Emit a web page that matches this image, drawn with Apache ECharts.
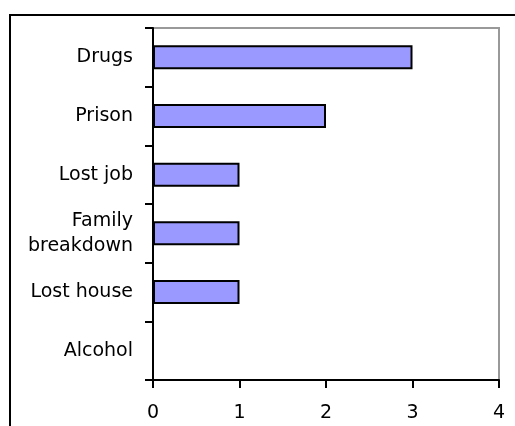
<!DOCTYPE html>
<html>
<head>
<meta charset="utf-8">
<script src="https://cdn.jsdelivr.net/npm/echarts@6/dist/echarts.min.js"></script>
<style>
  html, body { margin: 0; padding: 0; background: #fff; }
  #chart { width: 515px; height: 426px; }
</style>
</head>
<body>
<div id="chart"></div>
<script>
// reasons, top to bottom
const reasons = ['Drugs', 'Prison', 'Lost job', 'Family\nbreakdown', 'Lost house', 'Alcohol']
const counts = [3, 2, 1, 1, 1, 0]
const xTicks = [0, 1, 2, 3, 4]

const chart = echarts.init(document.getElementById('chart'))

const option = {
  animation: false,
  textStyle: { fontFamily: 'DejaVu Sans, sans-serif' },
  graphic: [{
    type: 'rect',
    shape: { x: 10, y: 15, width: 520, height: 430 },
    style: { fill: 'none', stroke: '#000', lineWidth: 2 },
    silent: true
  }],
  grid: {
    left: 153, top: 28, right: 16, bottom: 46,
    show: true, borderColor: '#999', borderWidth: 2, backgroundColor: 'transparent'
  },
  xAxis: {
    type: 'value',
    min: xTicks[0],
    max: xTicks[xTicks.length - 1],
    interval: 1,
    splitLine: { show: false },
    axisLine: { show: true, lineStyle: { color: '#000', width: 2 } },
    axisTick: { show: true, length: 8, lineStyle: { color: '#000', width: 2 } },
    axisLabel: { color: '#000', fontSize: 19, margin: 24, fontFamily: 'DejaVu Sans' }
  },
  yAxis: {
    type: 'category',
    inverse: true,
    data: reasons,
    axisLine: { show: true, lineStyle: { color: '#000', width: 2 } },
    axisTick: { show: true, length: 8, lineStyle: { color: '#000', width: 2 } },
    axisLabel: { color: '#000', fontSize: 19, margin: 20, lineHeight: 25, align: 'right', fontFamily: 'DejaVu Sans' }
  },
  series: [{
    type: 'bar',
    data: counts,
    barWidth: '41%',
    itemStyle: { color: '#9999ff', borderColor: '#000', borderWidth: 2 }
  }]
}

chart.setOption(option)
</script>
</body>
</html>
